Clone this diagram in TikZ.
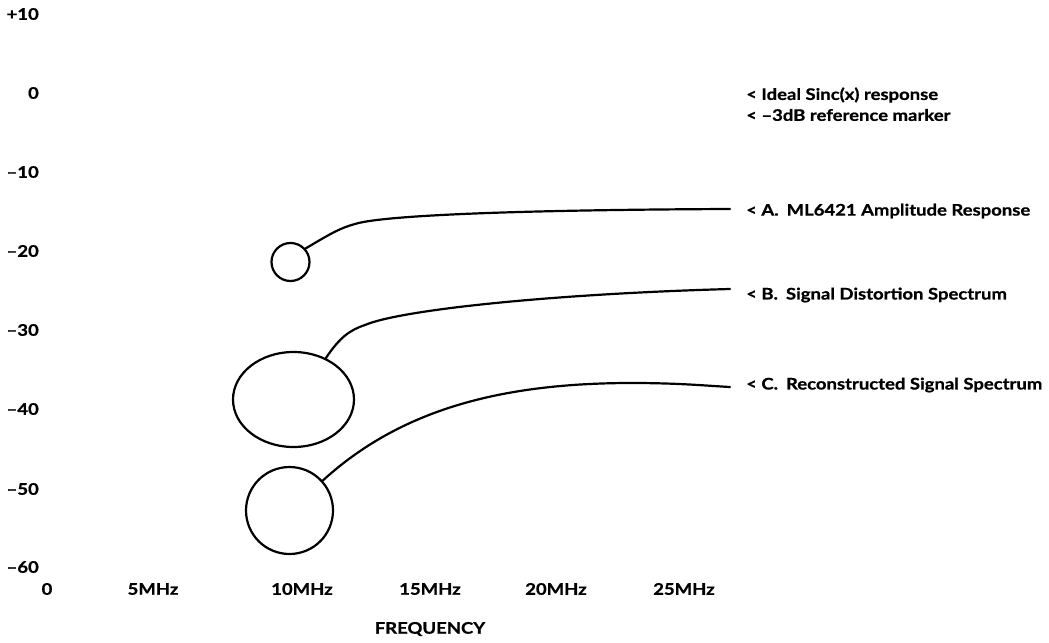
\documentclass[tikz,border=0pt]{standalone}
\usepackage{fontspec}
\setmainfont{Lato}[FakeStretch=1.16, BoldFeatures={FakeBold=0.8}]
\usetikzlibrary{shapes.geometric}
\begin{document}
\begin{tikzpicture}[x=1bp,y=-1bp,
  lbl/.style={font=\bfseries\fontsize{16}{18}\selectfont, inner sep=0pt},
  ylbl/.style={lbl, anchor=east},
  xlbl/.style={lbl, anchor=center},
  rlbl/.style={lbl, anchor=west},
  blob/.style={draw, line width=2.2bp, inner sep=0pt},
  curve/.style={line width=2.2bp, line cap=round}]
\useasboundingbox (0,0) rectangle (1049,643);
% y axis labels
\node[ylbl] (y10) at (39,14) {+10};
\node[ylbl] (y0) at (39,93) {0};
\node[ylbl] (ym10) at (39,172) {–10};
\node[ylbl] (ym20) at (39,251) {–20};
\node[ylbl] (ym30) at (39,330) {–30};
\node[ylbl] (ym40) at (39,409) {–40};
\node[ylbl] (ym50) at (39,489) {–50};
\node[ylbl] (ym60) at (39,567) {–60};
% x axis labels
\node[xlbl] (x0) at (47,589) {0};
\node[xlbl] (x5) at (153,589) {5MHz};
\node[xlbl] (x10) at (302,589) {10MHz};
\node[xlbl] (x15) at (430,589) {15MHz};
\node[xlbl] (x20) at (556,589) {20MHz};
\node[xlbl] (x25) at (684,589) {25MHz};
\node[xlbl] (xt) at (430,629) {FREQUENCY};
% right legend
\node[rlbl] (l1) at (746,95) {< Ideal Sinc(x) response};
\node[rlbl] (l2) at (746,115) {< –3dB reference marker};
\node[rlbl] (la) at (746,211) {< A.\enspace ML6421 Amplitude Response};
\node[rlbl] (lb) at (746,295) {< B.\enspace Signal Distortion Spectrum};
\node[rlbl] (lc) at (746,385) {< C.\enspace Reconstructed Signal Spectrum};
% blobs
\node[blob, circle, minimum size=38bp] (cA) at (290.5,262) {};
\node[blob, ellipse, minimum width=121bp, minimum height=95bp] (cB) at (293.5,399.5) {};
\node[blob, circle, minimum size=87bp] (cC) at (289.5,510.5) {};
% curve ends
\coordinate (eA) at (730,209);
\coordinate (eB) at (730,289);
\coordinate (eC) at (730,387);
% curves
\draw[curve] (cA.42) .. controls (330,234) and (340,228) .. (355,224)
  .. controls (380,216) and (500,210) .. (eA);
\draw[curve] (cB.52) .. controls (340,337) and (350,330) .. (365,325)
  .. controls (400,310) and (550,294) .. (eB);
\draw[curve] (cC.42) .. controls (400,410) and (500,383) .. (632,383)
  .. controls (680,383) and (710,386) .. (eC);
\end{tikzpicture}
\end{document}
